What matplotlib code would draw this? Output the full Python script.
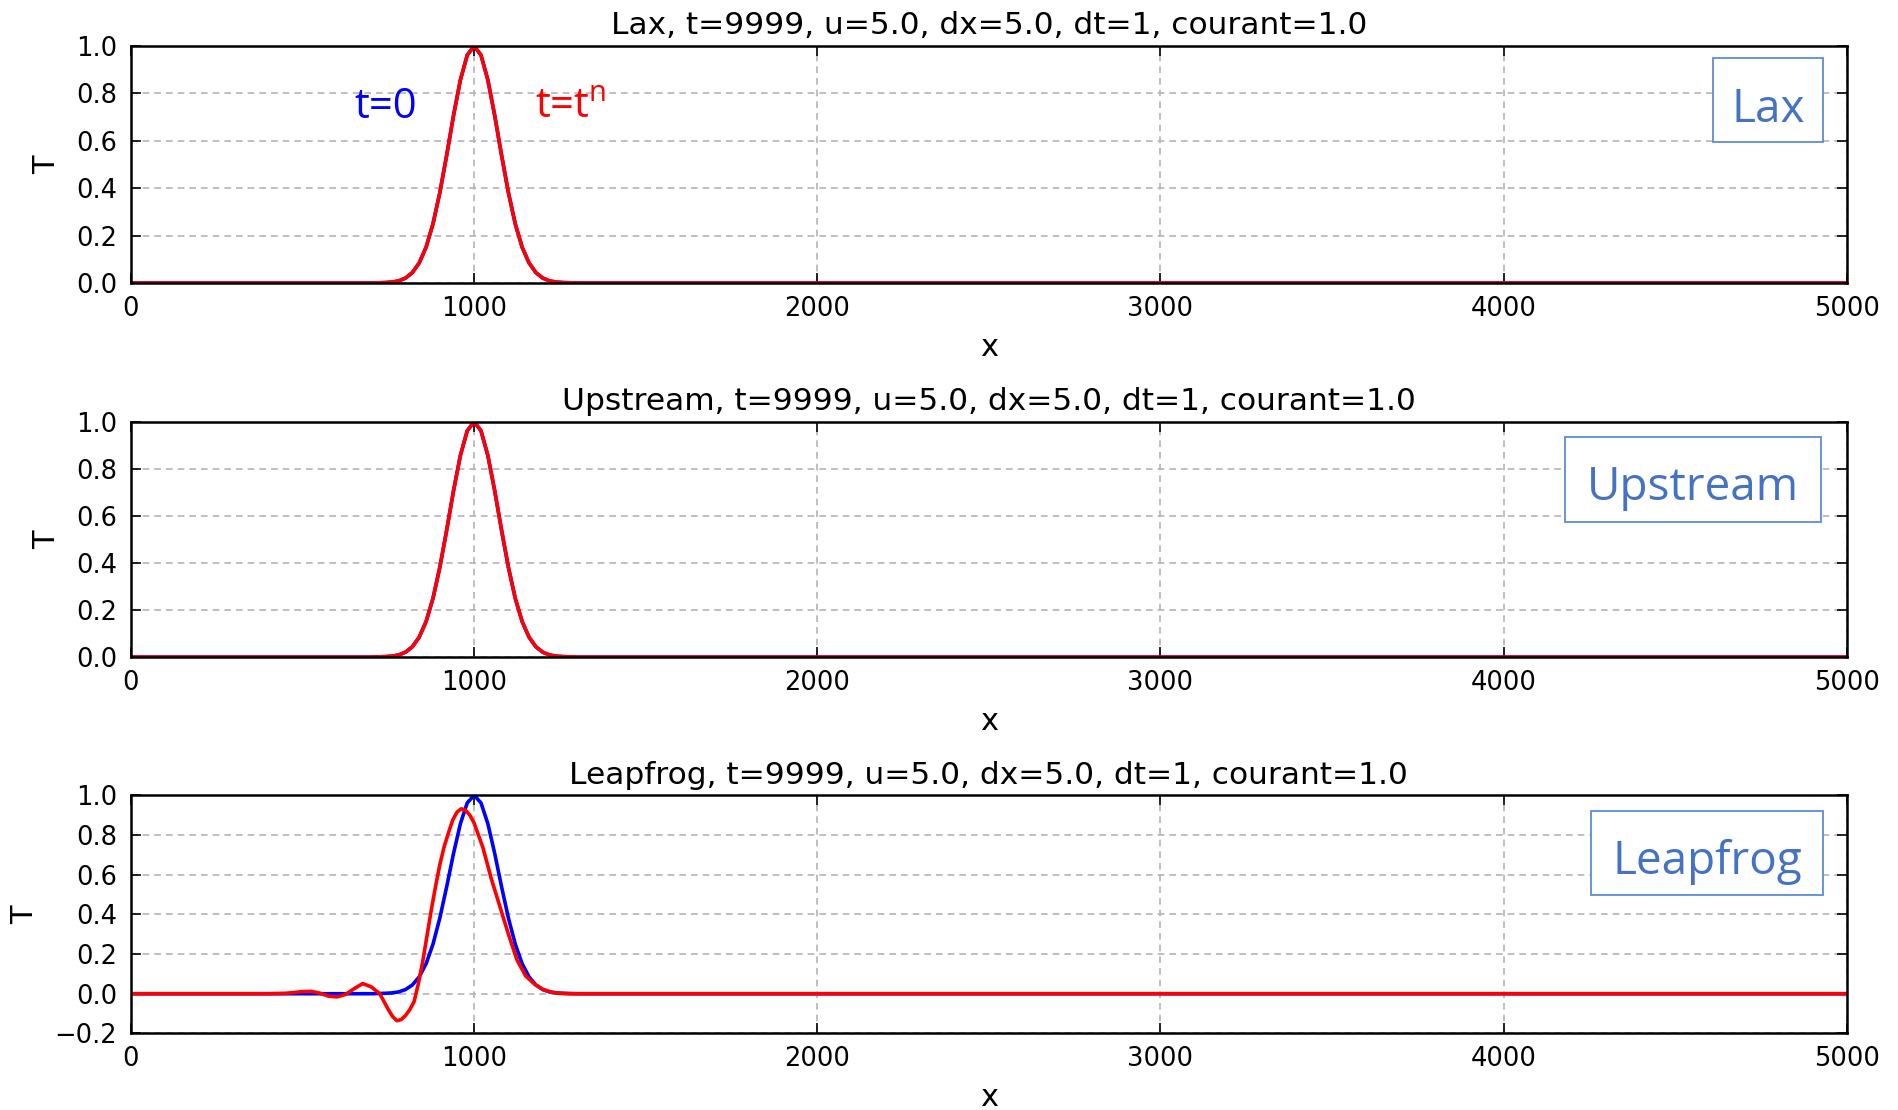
import matplotlib
matplotlib.use("Agg")
import matplotlib.pyplot as plt
from matplotlib.patches import Rectangle

# Pulse positions and values
x_pulse = [0, 700, 720, 740, 760, 780, 800, 820, 840, 860, 880, 900, 920, 940, 960, 980,
           1000, 1020, 1040, 1060, 1080, 1100, 1120, 1140, 1160, 1180, 1200, 1220, 1240,
           1260, 1280, 1300, 5000]
T_init = [0.0, 0.000, 0.001, 0.002, 0.004, 0.009, 0.021, 0.044, 0.085, 0.151, 0.249, 0.381,
          0.539, 0.707, 0.857, 0.962, 1.000, 0.962, 0.857, 0.707, 0.539, 0.381, 0.249, 0.151,
          0.085, 0.044, 0.021, 0.009, 0.004, 0.002, 0.001, 0.000, 0.0]
# Lax and Upstream end states lie on top of the initial pulse
T_lax = [0.0, 0.000, 0.001, 0.002, 0.004, 0.009, 0.021, 0.044, 0.085, 0.151, 0.249, 0.381,
         0.539, 0.707, 0.857, 0.962, 1.000, 0.962, 0.857, 0.707, 0.539, 0.381, 0.249, 0.151,
         0.085, 0.044, 0.021, 0.009, 0.004, 0.002, 0.001, 0.000, 0.0]
T_upstream = [0.0, 0.000, 0.001, 0.002, 0.004, 0.009, 0.021, 0.044, 0.085, 0.151, 0.249, 0.381,
              0.539, 0.707, 0.857, 0.962, 1.000, 0.962, 0.857, 0.707, 0.539, 0.381, 0.249, 0.151,
              0.085, 0.044, 0.021, 0.009, 0.004, 0.002, 0.001, 0.000, 0.0]

x_leap = [0, 400, 425, 450, 475, 500, 525, 550, 575, 600, 625, 650, 675, 700, 725, 750,
          762.5, 775, 787.5, 800, 812.5, 825, 837.5, 850, 862.5, 875, 887.5, 900, 912.5, 925,
          937.5, 950, 962.5, 975, 987.5, 1000, 1012.5, 1025, 1037.5, 1050,
          1075, 1100, 1125, 1150, 1175, 1200, 1225, 1250, 1275, 1300, 5000]
T_leap = [0.0, 0.000, 0.001, 0.002, 0.006, 0.011, 0.012, 0.003, -0.012, -0.016, -0.004, 0.025,
          0.051, 0.035, 0.000, -0.080,
          -0.115, -0.136, -0.130, -0.110, -0.080, -0.040, 0.050, 0.160, 0.290, 0.420,
          0.540, 0.650, 0.740, 0.810, 0.875, 0.915, 0.932, 0.925, 0.900, 0.860,
          0.800, 0.740, 0.660, 0.580,
          0.440, 0.300, 0.170, 0.090, 0.050, 0.022, 0.008, 0.002, 0.000, 0.000, 0.0]

schemes = ["Lax", "Upstream", "Leapfrog"]
finals = [(x_pulse, T_lax), (x_pulse, T_upstream), (x_leap, T_leap)]
ylims = [(0.0, 1.0), (0.0, 1.0), (-0.2, 1.0)]
x_ticks = [0, 1000, 2000, 3000, 4000, 5000]
params = "t=9999, u=5.0, dx=5.0, dt=1, courant=1.0"

# axes rectangles (left, bottom, width, height) in figure fraction
axes_pos = [(0.069, 0.745, 0.904, 0.2135),
            (0.069, 0.408, 0.904, 0.212),
            (0.069, 0.069, 0.904, 0.2145)]
# label boxes in axes fraction: x0, x1, y0, y1, baseline
boxes = [(0.922, 0.986, 0.595, 0.949, 0.679),
         (0.836, 0.985, 0.574, 0.936, 0.668),
         (0.851, 0.986, 0.580, 0.933, 0.668)]

fig = plt.figure(figsize=(18.98, 11.10), dpi=100)
box_blue = "#4472C4"

for i, name in enumerate(schemes):
    ax = fig.add_axes(axes_pos[i])
    ax.plot(x_pulse, T_init, color="#0000ff", lw=2.6)
    ax.plot(finals[i][0], finals[i][1], color="#ff0000", lw=2.6)

    ax.set_xlim(0, 5000)
    ax.set_ylim(*ylims[i])
    ax.set_xticks(x_ticks)
    ax.set_yticks([v / 10 for v in range(int(ylims[i][0] * 10), 11, 2)])
    ax.grid(True, color="#b4b4b4", linestyle=(0, (4, 3)), lw=1.2)
    ax.tick_params(direction="in", top=True, right=True, length=7, width=1.2,
                   labelsize=18.5, colors="black")
    ax.tick_params(axis="x", pad=9)
    ax.tick_params(axis="y", pad=10)
    for sp in ax.spines.values():
        sp.set_linewidth(1.8)
    ax.set_title(f"{name}, {params}", fontsize=22.5, pad=8.5)
    ax.set_xlabel("x", fontsize=22, labelpad=8)
    ax.set_ylabel("T", fontsize=22, labelpad=11)

    # scheme name box
    x0, x1, y0, y1, base = boxes[i]
    ax.add_patch(Rectangle((x0, y0), x1 - x0, y1 - y0, transform=ax.transAxes,
                           facecolor="white", edgecolor="#5b8bd8", lw=1.3, zorder=5))
    ax.text((x0 + x1) / 2, base, name, transform=ax.transAxes, ha="center",
            va="baseline", fontsize=33, color=box_blue, family="Open Sans", zorder=6)

    if i == 0:
        ax.text(650, 0.696, "t=0", color="#0000ff", fontsize=30, family="Open Sans",
                va="baseline", ha="left")
        ax.text(1177, 0.696, r"t=$\mathregular{t^{n}}$", color="#ff0000", fontsize=30,
                family="Open Sans", va="baseline", ha="left")

fig.savefig("out.png", dpi=100)
